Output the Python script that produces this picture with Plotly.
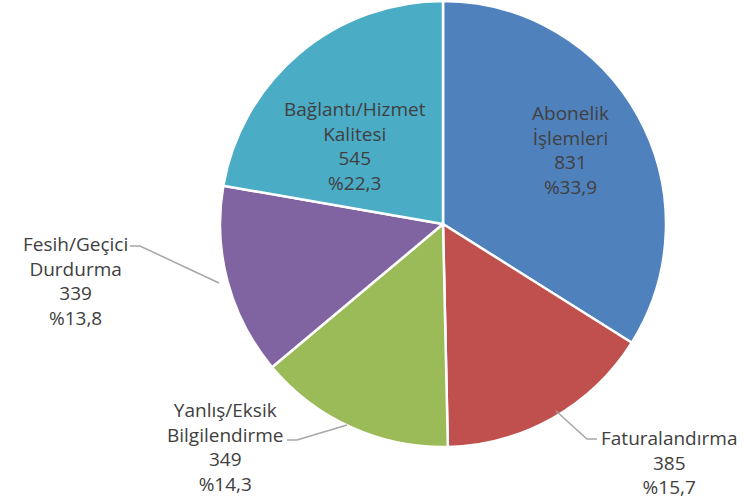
import plotly.graph_objects as go

W, H = 744, 502

categories = ["Abonelik<br>İşlemleri", "Faturalandırma", "Yanlış/Eksik<br>Bilgilendirme",
              "Fesih/Geçici<br>Durdurma", "Bağlantı/Hizmet<br>Kalitesi"]
values = [831, 385, 349, 339, 545]
percent_labels = ["%33,9", "%15,7", "%14,3", "%13,8", "%22,3"]
colors = ["#4F81BD", "#C0504D", "#9BBB59", "#8064A2", "#4BACC6"]

# label centres (pixels) and leader lines
label_pos = [(570, 150), (669, 462), (225, 447), (75, 281), (355, 146)]
leaders = [None,
           [(597, 439), (587, 439), (556, 411)],
           [(287, 440), (297, 440), (347, 425)],
           [(130, 246), (140, 246), (219, 283)],
           None]

CX, CY, R = 443, 224, 223


def px(x, y):
    return x / W, 1 - y / H


fig = go.Figure()
fig.add_trace(go.Pie(
    labels=categories,
    values=values,
    sort=False,
    direction="clockwise",
    rotation=0,
    textinfo="none",
    hoverinfo="label+value+percent",
    marker=dict(colors=colors, line=dict(color="white", width=2.5)),
    domain=dict(x=[(CX - R) / W, (CX + R) / W],
                y=[max(0, (H - CY - R) / H), min(1, (H - CY + R) / H)]),
    showlegend=False,
))

for cat, val, pct, (x, y) in zip(categories, values, percent_labels, label_pos):
    ax, ay = px(x, y)
    fig.add_annotation(
        x=ax, y=ay, xref="paper", yref="paper",
        xanchor="center", yanchor="middle",
        text=f"{cat}<br>{val}<br>{pct}",
        showarrow=False, align="center",
        font=dict(family="Open Sans", size=19, color="#404040"),
    )

for pts in leaders:
    if pts is None:
        continue
    path = "M " + " L ".join(f"{x/W},{1 - y/H}" for x, y in pts)
    fig.add_shape(type="path", path=path, xref="paper", yref="paper",
                  line=dict(color="#A6A6A6", width=1.5))

fig.update_layout(
    width=W, height=H,
    paper_bgcolor="white",
    plot_bgcolor="white",
    margin=dict(l=0, r=0, t=0, b=0),
)

fig.write_html("out.html", config={"displayModeBar": False},
               post_script="document.body.style.margin='0';")
